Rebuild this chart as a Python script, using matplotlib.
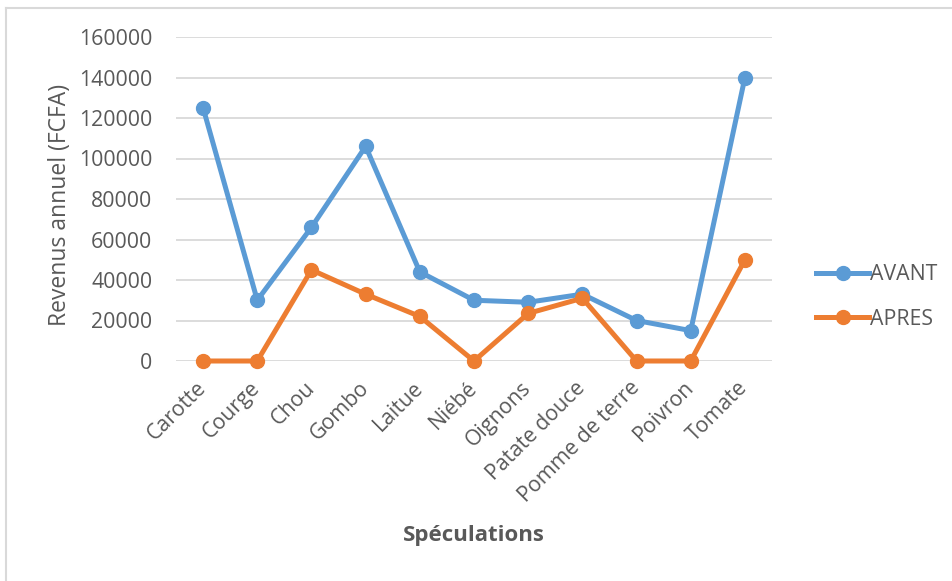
import matplotlib
matplotlib.use("Agg")
import matplotlib.pyplot as plt
from matplotlib.lines import Line2D

# data
categories = ["Carotte", "Courge", "Chou", "Gombo", "Laitue", "Niébé", "Oignons",
              "Patate douce", "Pomme de terre", "Poivron", "Tomate"]
avant = [125000, 30000, 66000, 106000, 44000, 30000, 29000, 33000, 20000, 15000, 140000]
apres = [0, 0, 45000, 33000, 22000, 0, 23500, 31000, 0, 0, 50000]
yticks = [0, 20000, 40000, 60000, 80000, 100000, 120000, 140000, 160000]

blue = "#5B9BD5"
orange = "#ED7D31"
textcol = "#595959"

plt.rcParams['font.family'] = ['Open Sans', 'DejaVu Sans']

W, H = 952, 581
fig = plt.figure(figsize=(W / 100, H / 100), dpi=100)

# axes box in pixels: x 176..772, y 37..361
ax = fig.add_axes([176 / W, 1 - 361 / H, 596 / W, 324 / H])

x = list(range(len(categories)))
ax.plot(x, avant, color=blue, lw=3.6, marker='o', ms=10, label="AVANT", zorder=3, clip_on=False)
ax.plot(x, apres, color=orange, lw=3.6, marker='o', ms=10, label="APRES", zorder=3, clip_on=False)

ax.set_xlim(-0.5, len(categories) - 0.5)
ax.set_ylim(0, 160000)
ax.set_yticks(yticks)
ax.set_yticklabels([str(v) for v in yticks])
ax.set_xticks(x)
ax.set_xticklabels(categories, rotation=45, ha='right', va='center', rotation_mode='anchor')

ax.grid(axis='y', color="#D9D9D9", lw=1.3, zorder=0)
ax.set_axisbelow(True)
for s in ax.spines.values():
    s.set_visible(False)
ax.tick_params(axis='both', length=0, labelsize=15.3, labelcolor=textcol)
ax.tick_params(axis='y', pad=17)
ax.tick_params(axis='x', pad=17)

fig.text(60 / W, 1 - 205 / H, "Revenus annuel (FCFA)", rotation=90, ha='center', va='center',
         fontsize=16.5, color=textcol)
fig.text(474 / W, 1 - 536 / H, "Spéculations", ha='center', va='center',
         fontsize=16, fontweight='bold', color=textcol)

leg = ax.legend(loc='center left', bbox_to_anchor=(797 / W, 1 - 297 / H),
                bbox_transform=fig.transFigure, frameon=False, fontsize=15.3,
                handlelength=2.5, handletextpad=0.05, labelspacing=1.1)
for t in leg.get_texts():
    t.set_color(textcol)

# light frame of the chart area (top and left edges)
fig.add_artist(Line2D([6 / W, 1], [1 - 8 / H, 1 - 8 / H], color="#D9D9D9", lw=1.5,
                      transform=fig.transFigure))
fig.add_artist(Line2D([6 / W, 6 / W], [0, 1 - 8 / H], color="#D9D9D9", lw=1.5,
                      transform=fig.transFigure))

fig.savefig("out.png", dpi=100)
